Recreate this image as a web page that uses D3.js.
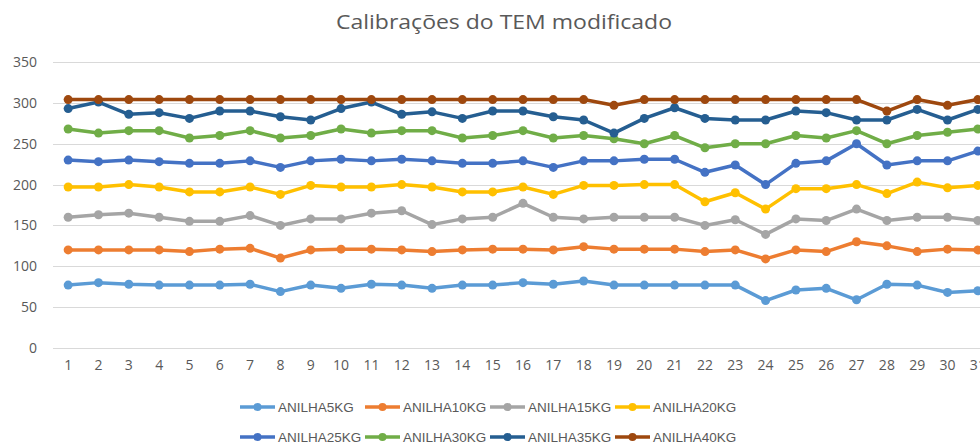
<!DOCTYPE html>
<html>
<head>
<meta charset="utf-8">
<script src="https://cdn.jsdelivr.net/npm/d3@7"></script>
<style>
  body { margin: 0; background: #fff; overflow: hidden; }
  svg { display: block; }
</style>
</head>
<body>
<div id="chart"></div>
<script>
const width = 980;
const height = 445;

// Days 1..31
const days = d3.range(1, 32);

const seriesNames = ["ANILHA5KG", "ANILHA10KG", "ANILHA15KG", "ANILHA20KG",
                     "ANILHA25KG", "ANILHA30KG", "ANILHA35KG", "ANILHA40KG"];
const seriesColors = ["#5B9BD5", "#ED7D31", "#A5A5A5", "#FFC000",
                      "#4472C4", "#70AD47", "#255E91", "#9E480E"];

const anilha5 = [77, 80, 78, 77, 77, 77, 78, 69, 77, 73, 78, 77, 73, 77, 77, 80, 78, 82, 77, 77,
                 77, 77, 77, 58, 71, 73, 59, 78, 77, 68, 70];
const anilha10 = [120, 120, 120, 120, 118, 121, 122, 110, 120, 121, 121, 120, 118, 120, 121, 121, 120, 124, 121, 121,
                  121, 118, 120, 109, 120, 118, 130, 125, 118, 121, 120];
const anilha15 = [160, 163, 165, 160, 155, 155, 162, 150, 158, 158, 165, 168, 151, 158, 160, 177, 160, 158, 160, 160,
                  160, 150, 157, 139, 158, 156, 170, 156, 160, 160, 156];
const anilha20 = [197, 197, 200, 197, 191, 191, 197, 188, 199, 197, 197, 200, 197, 191, 191, 197, 188, 199, 199, 200,
                  200, 179, 190, 170, 195, 195, 200, 189, 203, 196, 199];
const anilha25 = [230, 228, 230, 228, 226, 226, 229, 221, 229, 231, 229, 231, 229, 226, 226, 229, 221, 229, 229, 231,
                  231, 215, 224, 200, 226, 229, 250, 224, 229, 229, 241];
const anilha30 = [268, 263, 266, 266, 257, 260, 266, 257, 260, 268, 263, 266, 266, 257, 260, 266, 257, 260, 256, 250,
                  260, 245, 250, 250, 260, 257, 266, 250, 260, 264, 268];
const anilha35 = [293, 301, 286, 288, 281, 290, 290, 283, 279, 293, 301, 286, 289, 281, 290, 290, 283, 279, 263, 281,
                  294, 281, 279, 279, 290, 288, 279, 279, 292, 279, 292];
const anilha40 = [304, 304, 304, 304, 304, 304, 304, 304, 304, 304, 304, 304, 304, 304, 304, 304, 304, 304, 297, 304,
                  304, 304, 304, 304, 304, 304, 304, 290, 304, 297, 304];

const yTicks = [0, 50, 100, 150, 200, 250, 300, 350];

const series = [anilha5, anilha10, anilha15, anilha20, anilha25, anilha30, anilha35, anilha40]
  .map((values, i) => ({ name: seriesNames[i], color: seriesColors[i], values }));

const svg = d3.select("#chart")
  .append("svg")
  .attr("width", width)
  .attr("height", height)
  .style("background", "#fff");

const plot = { left: 53, right: 993, top: 62, bottom: 348 };

const x = d3.scaleBand()
  .domain(days)
  .range([plot.left, plot.right]);

const y = d3.scaleLinear()
  .domain([0, 350])
  .range([plot.bottom, plot.top]);

// Title
svg.append("text")
  .attr("x", 504)
  .attr("y", 29)
  .attr("text-anchor", "middle")
  .attr("textLength", 336)
  .attr("lengthAdjust", "spacingAndGlyphs")
  .style("font-family", "'Open Sans', sans-serif")
  .style("font-size", "20px")
  .style("fill", "#595959")
  .text("Calibrações do TEM modificado");

// Gridlines
svg.append("g")
  .selectAll("line")
  .data(yTicks)
  .join("line")
  .attr("x1", plot.left)
  .attr("x2", width)
  .attr("y1", d => Math.round(y(d)) + 0.5)
  .attr("y2", d => Math.round(y(d)) + 0.5)
  .attr("stroke", "#D9D9D9")
  .attr("stroke-width", 1);

// Y axis labels
const yAxis = d3.axisLeft(y)
  .tickValues(yTicks)
  .tickSize(0)
  .tickPadding(16);

svg.append("g")
  .attr("transform", `translate(${plot.left},0)`)
  .call(yAxis)
  .call(g => g.select(".domain").remove())
  .call(g => g.selectAll("text")
    .style("font-family", "'Open Sans', sans-serif")
    .style("font-size", "14px")
    .style("fill", "#595959"));

// X axis labels
const xAxis = d3.axisBottom(x)
  .tickSize(0)
  .tickPadding(12);

svg.append("g")
  .attr("transform", `translate(0,${plot.bottom})`)
  .call(xAxis)
  .call(g => g.select(".domain").remove())
  .call(g => g.selectAll("text")
    .style("font-family", "'Open Sans', sans-serif")
    .style("font-size", "14px")
    .style("fill", "#595959"));

// Lines and markers
const line = d3.line()
  .x((d, i) => x(days[i]) + x.bandwidth() / 2)
  .y(d => y(d));

const groups = svg.append("g")
  .selectAll("g")
  .data(series)
  .join("g");

groups.append("path")
  .attr("d", d => line(d.values))
  .attr("fill", "none")
  .attr("stroke", d => d.color)
  .attr("stroke-width", 3.5)
  .attr("stroke-linejoin", "round")
  .attr("stroke-linecap", "round");

groups.selectAll("circle")
  .data(d => d.values.map((v, i) => ({ v, i, color: d.color })))
  .join("circle")
  .attr("cx", d => x(days[d.i]) + x.bandwidth() / 2)
  .attr("cy", d => y(d.v))
  .attr("r", 4.5)
  .attr("fill", d => d.color);

// Legend
const legend = svg.append("g")
  .selectAll("g")
  .data(series)
  .join("g")
  .attr("transform", (d, i) => `translate(${240 + (i % 4) * 125},${407 + Math.floor(i / 4) * 30})`);

legend.append("line")
  .attr("x1", 0)
  .attr("x2", 35)
  .attr("stroke", d => d.color)
  .attr("stroke-width", 3.5);

legend.append("circle")
  .attr("cx", 17.5)
  .attr("r", 4)
  .attr("fill", d => d.color);

legend.append("text")
  .attr("x", 38)
  .attr("dy", "0.35em")
  .style("font-family", "'Liberation Sans', Arial, sans-serif")
  .style("font-size", "13.5px")
  .style("fill", "#595959")
  .text(d => d.name);
</script>
</body>
</html>
